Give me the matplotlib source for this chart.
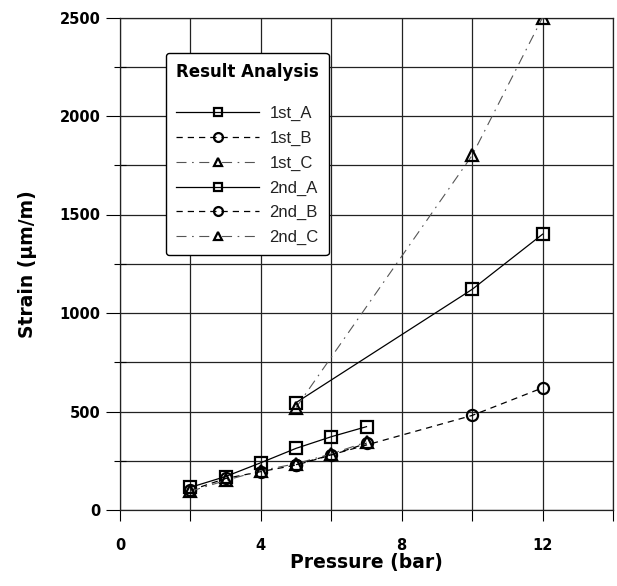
import matplotlib
matplotlib.use("Agg")
import matplotlib.pyplot as plt
from matplotlib.ticker import MultipleLocator

plt.rcParams['font.family'] = ['Liberation Sans', 'DejaVu Sans']

# Data
p1 = [2, 3, 4, 5, 6, 7]
first_A = [115, 170, 240, 313, 372, 423]
first_B = [100, 160, 195, 228, 279, 338]
first_C = [95, 150, 200, 235, 285, 345]

p2 = [5, 10, 12]
second_A = [545, 1120, 1400]
second_B = [230, 480, 620]
second_C = [520, 1800, 2500]

labels = ["1st_A", "1st_B", "1st_C", "2nd_A", "2nd_B", "2nd_C"]
xticks = [0, 4, 8, 12]
yticks = [0, 500, 1000, 1500, 2000, 2500]

W, H = 617, 586
fig = plt.figure(figsize=(W / 100, H / 100), dpi=100)
ax = fig.add_axes([120 / W, 1 - 510 / H, (613 - 120) / W, (510 - 17.5) / H])

dash_c = (0, (9, 5, 1.5, 5))
styles = [
    dict(ls='-', marker='s', color='black', lw=0.9),
    dict(ls=(0, (5, 4)), marker='o', color='black', lw=0.9),
    dict(ls=dash_c, marker='^', color='#555555', lw=0.8),
]
series = [(p1, first_A), (p1, first_B), (p1, first_C),
          (p2, second_A), (p2, second_B), (p2, second_C)]

for i, ((x, y), lab) in enumerate(zip(series, labels)):
    st = dict(styles[i % 3])
    ax.plot(x, y, linestyle=st['ls'], color=st['color'], lw=st['lw'],
            marker=st['marker'], markersize=8, markerfacecolor='none',
            markeredgecolor='black', markeredgewidth=1.6, label=lab, zorder=3)

ax.set_xlim(0, 14)
ax.set_ylim(0, 2500)
ax.xaxis.set_minor_locator(MultipleLocator(2))
ax.yaxis.set_minor_locator(MultipleLocator(250))
ax.set_xticks(xticks)
ax.set_yticks(yticks)
ax.grid(True, which='both', color='#222222', lw=0.9)
ax.set_axisbelow(True)

ax.tick_params(axis='x', which='both', direction='out', length=8, width=0.8, pad=12)
ax.tick_params(axis='y', which='major', direction='out', length=10, width=0.8, pad=4)
ax.tick_params(axis='y', which='minor', direction='inout', length=8, width=0.8)
for lab in ax.get_xticklabels() + ax.get_yticklabels():
    lab.set_fontfamily('DejaVu Sans')
    lab.set_fontweight('bold')
    lab.set_fontsize(10.5)

for s in ax.spines.values():
    s.set_color('#222222')
    s.set_linewidth(0.9)

ax.set_xlabel('Pressure (bar)', fontsize=13.5, fontweight='bold',
              family='DejaVu Sans', labelpad=0)
ax.set_ylabel('Strain (\u03bcm/m)', fontsize=13.5, fontweight='bold',
              family='DejaVu Sans', labelpad=16)

leg = ax.legend(loc='upper left', bbox_to_anchor=(166 / W, 1 - 53 / H),
                bbox_transform=fig.transFigure, borderaxespad=0,
                title='Result Analysis', fontsize=12, handlelength=5,
                handletextpad=0.6, labelspacing=0.58, markerscale=0.8,
                fancybox=True, framealpha=1, edgecolor='black',
                borderpad=0.6)
leg.get_title().set_fontweight('bold')
leg.get_title().set_fontfamily('DejaVu Sans')
leg.get_title().set_fontsize(12)
leg._legend_box.sep = 18
leg.get_frame().set_linewidth(1.0)
for t in leg.get_texts():
    t.set_color('#222222')

fig.savefig('out.png', dpi=100)
